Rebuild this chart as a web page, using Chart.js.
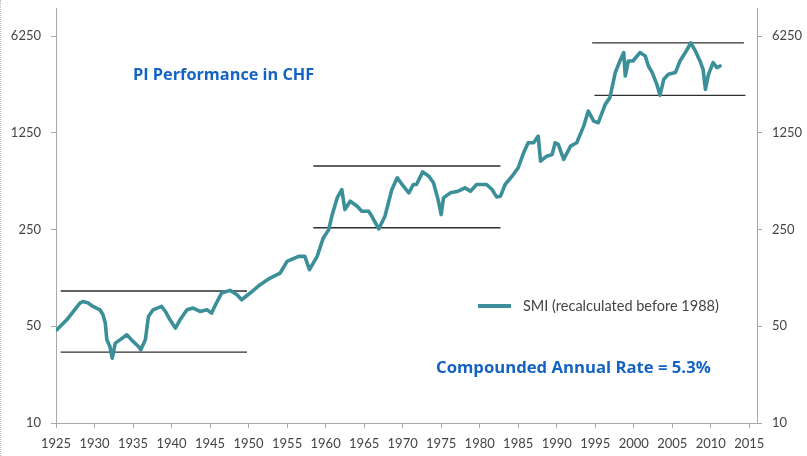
<!DOCTYPE html>
<html>
<head>
<meta charset="utf-8">
<script src="https://cdn.jsdelivr.net/npm/chart.js@4.4.1/dist/chart.umd.min.js"></script>
<style>
  html,body{margin:0;padding:0;background:#fff;}
  #wrap{position:relative;width:807px;height:456px;overflow:hidden;}
  #wrap:before{content:"";position:absolute;left:0;top:0;bottom:0;border-left:1px dotted #bdbdbd;}
  canvas{position:absolute;left:0;top:0;}
  .note{position:absolute;font-family:"Open Sans",sans-serif;font-weight:700;color:#1463c4;white-space:nowrap;line-height:1;}
  #legend{position:absolute;left:478px;top:297px;font-family:Lato,sans-serif;font-size:14.5px;color:#444;white-space:nowrap;line-height:18px;}
  #legend span.sw{display:inline-block;width:33px;height:4px;background:#3b8f98;vertical-align:middle;margin-right:12px;position:relative;top:-1px;}
</style>
</head>
<body>
<div id="wrap">
  <canvas id="c" width="807" height="456"></canvas>
  <div class="note" style="left:133px;top:66px;font-size:16.3px;">PI Performance in CHF</div>
  <div class="note" style="left:436px;top:359px;font-size:16.7px;">Compounded Annual Rate = 5.3%</div>
  <div id="legend"><span class="sw"></span>SMI (recalculated before 1988)</div>
</div>
<script>
// ---- data ----
const years = [1925.1,1926.4,1928.1,1928.5,1929.2,1929.8,1930.7,1931.1,1931.4,1931.6,1932.0,1932.3,1932.7,1933.3,1934.2,1934.8,1935.7,1936.0,1936.6,1937.0,1937.6,1938.7,1939.2,1939.8,1940.5,1941.1,1942.0,1942.8,1943.7,1944.6,1945.2,1945.6,1946.5,1947.6,1948.5,1949.1,1950.2,1951.5,1952.8,1954.1,1955.0,1956.5,1957.3,1957.9,1958.9,1959.7,1960.4,1960.8,1961.5,1962.1,1962.5,1963.2,1964.1,1964.7,1965.6,1966.0,1966.9,1967.7,1968.6,1969.3,1970.1,1970.8,1971.4,1971.8,1972.6,1973.4,1974.0,1974.6,1975.0,1975.3,1976.2,1977.2,1978.1,1978.8,1979.6,1980.9,1981.6,1982.2,1982.7,1983.3,1984.2,1985.0,1985.7,1986.3,1987.0,1987.6,1987.9,1988.7,1989.4,1989.8,1990.2,1990.9,1991.8,1992.6,1993.5,1994.1,1994.8,1995.4,1996.3,1996.9,1997.6,1998.2,1998.7,1998.9,1999.3,1999.9,2000.8,2001.5,2001.9,2002.4,2003.0,2003.4,2003.9,2004.5,2005.4,2006.0,2006.7,2007.4,2008.0,2008.6,2009.0,2009.3,2009.7,2010.3,2010.8,2011.2];
const smi = [47.2,55.7,73.6,75.6,73.6,69.6,65.8,60.6,52.8,39.9,35.7,29.4,37.8,39.9,43.4,39.9,35.7,33.8,39.9,58.9,65.8,69.6,64.0,55.7,48.5,55.7,65.8,67.7,64.0,65.8,62.3,69.6,87.0,90.9,84.6,77.8,87.0,100,111.7,121.4,147.3,160.2,160.2,128.3,160.2,217.7,250,312,424,487,349,401,369,339,339,312,253,312,487,592,515,461,530,530,654,608,545,412,321,424,461,474,501,474,530,530,487,431,436,530,608,700,898,1061,1061,1185,781,849,874,1061,1032,804,1003,1061,1400,1798,1522,1482,2011,2249,3412,4140,4762,3223,4140,4140,4762,4500,3809,3412,2807,2336,3051,3316,3412,4140,4762,5600,4892,4140,3605,2582,3316,4031,3708,3809];
// support/resistance bands: [startYear, endYear, level]
const bandStart = [1925.6,1925.6,1958.4,1958.4,1994.6,1994.9];
const bandEnd   = [1949.8,1949.8,1982.7,1982.7,2014.3,2014.5];
const bandLevel = [90,32.5,721,258,5600,2337];
const xTicks = [1925,1930,1935,1940,1945,1950,1955,1960,1965,1970,1975,1980,1985,1990,1995,2000,2005,2010,2015];
const yTicks = [10,50,250,1250,6250];

const axisColor = '#a8a8a8';
const tickFont = {family:'Lato, sans-serif', size:13};
const tickColor = '#444';

const datasets = [{
  label:'SMI (recalculated before 1988)',
  data: years.map((x,i)=>({x:x,y:smi[i]})),
  borderColor:'#3b8f98', borderWidth:3.6, pointRadius:0, tension:0,
  borderJoinStyle:'round', borderCapStyle:'round', yAxisID:'y', order:0
}];
bandLevel.forEach((v,i)=>{
  datasets.push({
    label:'band'+i,
    data:[{x:bandStart[i],y:v},{x:bandEnd[i],y:v}],
    borderColor:'#2e2e2e', borderWidth:1.3, pointRadius:0, yAxisID:'y', order:1
  });
});

function yAxis(pos){
  return {
    type:'logarithmic', position:pos, min:10, max:10000,
    afterBuildTicks:(s)=>{ s.ticks = yTicks.map(v=>({value:v})); },
    afterFit:(s)=>{ s.width = pos==='left'?56:50; s.paddingTop = 8; s.paddingBottom = 0; },
    ticks:{ callback:(v)=>String(v), font:tickFont, color:tickColor, padding:10, autoSkip:false },
    grid:{ drawOnChartArea:false, drawTicks:true, tickLength:5, color:axisColor },
    border:{ color:axisColor, width:1 }
  };
}

new Chart(document.getElementById('c'), {
  type:'line',
  data:{ datasets },
  options:{
    responsive:false, animation:false, devicePixelRatio:1,
    layout:{ padding:{ top:0, left:0, right:0, bottom:0 } },
    plugins:{ legend:{display:false}, tooltip:{enabled:false}, title:{display:false} },
    scales:{
      x:{
        type:'linear', min:1925, max:2016,
        afterBuildTicks:(s)=>{ s.ticks = xTicks.map(v=>({value:v})); },
        afterFit:(s)=>{ s.height = 33; },
        ticks:{ callback:(v)=>String(v), font:tickFont, color:tickColor, padding:8, maxRotation:0, autoSkip:false },
        grid:{ drawOnChartArea:false, drawTicks:true, tickLength:5, color:axisColor },
        border:{ color:axisColor, width:1 }
      },
      y: yAxis('left'),
      y2: yAxis('right')
    }
  }
});
</script>
</body>
</html>
